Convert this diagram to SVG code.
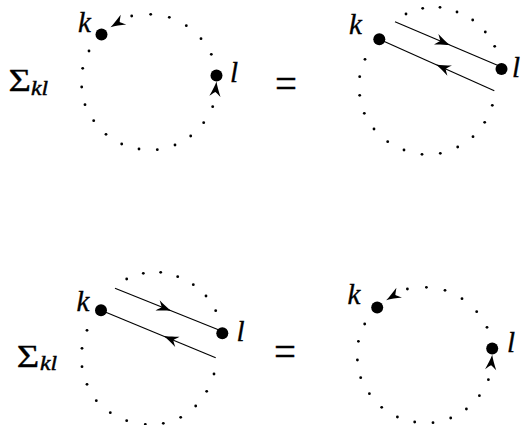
<svg xmlns="http://www.w3.org/2000/svg" xmlns:xlink="http://www.w3.org/1999/xlink" width="522" height="425" viewBox="0 0 522 425">
<style>
.sd{fill:#000;r:1.4px}
.bd{fill:#000;r:6px}
.ln{stroke:#000;stroke-width:1.15;fill:none}
.it{font-family:"Liberation Serif","Times New Roman",serif;font-style:italic;font-size:29px;fill:#000;stroke:#000;stroke-width:0.35}
.sig{font-family:"Liberation Serif","Times New Roman",serif;font-size:32px;fill:#000;stroke:#000;stroke-width:0.3}
.sub{font-family:"Liberation Serif","Times New Roman",serif;font-style:italic;font-size:21px;fill:#000;stroke:#000;stroke-width:0.45}
.eq{font-family:"Liberation Serif","Times New Roman",serif;font-size:42px;fill:#000;stroke:#000;stroke-width:0.3}
</style>
<defs>
<path id="ah" d="M0,0 C-4.5,-1.2 -10,-3.4 -15,-5.6 C-12.8,-2.8 -11.2,-1.1 -10.6,0 C-11.2,1.1 -12.8,2.8 -15,5.6 C-10,3.4 -4.5,1.2 0,0 Z" fill="#000"/>
</defs>

<!-- labels -->
<g id="sigma-top"><text class="sig" x="8.5" y="91" textLength="22.5" lengthAdjust="spacingAndGlyphs">Σ</text><text class="sub" x="31" y="95" textLength="17" lengthAdjust="spacingAndGlyphs">kl</text></g>
<g id="sigma-bottom"><text class="sig" x="16.7" y="367" textLength="22.5" lengthAdjust="spacingAndGlyphs">Σ</text><text class="sub" x="40" y="370" textLength="17" lengthAdjust="spacingAndGlyphs">kl</text></g>
<g id="eq-top"><text class="eq" x="275" y="97" textLength="22" lengthAdjust="spacingAndGlyphs">=</text></g>
<g id="eq-bottom"><text class="eq" x="274" y="365" textLength="22" lengthAdjust="spacingAndGlyphs">=</text></g>

<!-- top-left diagram -->
<g id="tl">
<g id="tl-k"><circle class="bd" cx="101.5" cy="34.5"/><text class="it" x="78" y="32">k</text></g>
<g id="tl-l"><circle class="bd" cx="216.5" cy="75.5"/><text class="it" x="230" y="82">l</text></g>
<g id="tl-connectors">
<circle class="sd" cx="131.7" cy="16"/><circle class="sd" cx="150.7" cy="14.3"/><circle class="sd" cx="169.3" cy="17.3"/><circle class="sd" cx="186.3" cy="25.7"/><circle class="sd" cx="201" cy="38.7"/><circle class="sd" cx="211.3" cy="54.3"/><circle class="sd" cx="212.7" cy="106.7"/><circle class="sd" cx="203.7" cy="122.7"/><circle class="sd" cx="190.7" cy="136"/><circle class="sd" cx="175" cy="145"/><circle class="sd" cx="157.3" cy="149.7"/><circle class="sd" cx="139" cy="149"/><circle class="sd" cx="121.7" cy="144"/><circle class="sd" cx="106" cy="134.3"/><circle class="sd" cx="93.7" cy="120.7"/><circle class="sd" cx="85" cy="104.7"/><circle class="sd" cx="81.7" cy="87"/><circle class="sd" cx="82.7" cy="68.3"/><circle class="sd" cx="89" cy="51"/>
<use xlink:href="#ah" transform="translate(110.5,27.2) rotate(150)"/>
<use xlink:href="#ah" transform="translate(216.5,81.5) rotate(-84)"/>
</g>
</g>

<!-- top-right diagram -->
<g id="tr">
<g id="tr-k"><circle class="bd" cx="379.3" cy="39.3"/><text class="it" x="349" y="34">k</text></g>
<g id="tr-l"><circle class="bd" cx="501.5" cy="69"/><text class="it" x="512" y="77">l</text></g>
<g id="tr-connectors">
<circle class="sd" cx="406" cy="14"/><circle class="sd" cx="422.7" cy="8.3"/><circle class="sd" cx="440" cy="7.3"/><circle class="sd" cx="457" cy="12"/><circle class="sd" cx="472.7" cy="20"/><circle class="sd" cx="485.3" cy="32"/><circle class="sd" cx="494.7" cy="46.3"/><circle class="sd" cx="492.3" cy="105.3"/><circle class="sd" cx="484.7" cy="122.3"/><circle class="sd" cx="473" cy="136.7"/><circle class="sd" cx="457.7" cy="147"/><circle class="sd" cx="440.3" cy="153.3"/><circle class="sd" cx="422" cy="154.3"/><circle class="sd" cx="404" cy="150"/><circle class="sd" cx="387.7" cy="141.7"/><circle class="sd" cx="374" cy="129"/><circle class="sd" cx="364.3" cy="113.3"/><circle class="sd" cx="359.7" cy="95.3"/><circle class="sd" cx="359.7" cy="76.7"/><circle class="sd" cx="365" cy="59.3"/>
<line class="ln" x1="395" y1="21.7" x2="498" y2="65.5"/>
<line class="ln" x1="379.3" y1="39.3" x2="494.3" y2="90.7"/>
<use xlink:href="#ah" transform="translate(450,45.1) rotate(23)"/>
<use xlink:href="#ah" transform="translate(436,64.6) rotate(204.1)"/>
</g>
</g>

<!-- bottom-left diagram -->
<g id="bl">
<g id="bl-k"><circle class="bd" cx="101" cy="310.3"/><text class="it" x="76.5" y="311">k</text></g>
<g id="bl-l"><circle class="bd" cx="222.3" cy="333.3"/><text class="it" x="236.5" y="341">l</text></g>
<g id="bl-connectors">
<circle class="sd" cx="126.7" cy="279"/><circle class="sd" cx="143.3" cy="273.3"/><circle class="sd" cx="160.7" cy="272.3"/><circle class="sd" cx="177.7" cy="276.7"/><circle class="sd" cx="193.3" cy="284.7"/><circle class="sd" cx="206" cy="296"/><circle class="sd" cx="215.7" cy="310.7"/><circle class="sd" cx="214" cy="374"/><circle class="sd" cx="206.7" cy="391.3"/><circle class="sd" cx="195.7" cy="406"/><circle class="sd" cx="180.7" cy="417.3"/><circle class="sd" cx="163.3" cy="423.3"/><circle class="sd" cx="145.3" cy="424.3"/><circle class="sd" cx="126.7" cy="420.7"/><circle class="sd" cx="110.3" cy="412.7"/><circle class="sd" cx="96.3" cy="400.7"/><circle class="sd" cx="87" cy="384.3"/><circle class="sd" cx="82" cy="366.7"/><circle class="sd" cx="82" cy="348.3"/><circle class="sd" cx="87" cy="330.3"/>
<line class="ln" x1="115" y1="288.3" x2="219" y2="330"/>
<line class="ln" x1="101" y1="310.3" x2="215.7" y2="357.7"/>
<use xlink:href="#ah" transform="translate(171.5,311) rotate(21.9)"/>
<use xlink:href="#ah" transform="translate(163.5,336.1) rotate(202.4)"/>
</g>
</g>

<!-- bottom-right diagram -->
<g id="br">
<g id="br-k"><circle class="bd" cx="377.2" cy="307.5"/><text class="it" x="347.5" y="303.5">k</text></g>
<g id="br-l"><circle class="bd" cx="492.2" cy="348.5"/><text class="it" x="507" y="352">l</text></g>
<g id="br-connectors">
<circle class="sd" cx="407.4" cy="289"/><circle class="sd" cx="426.4" cy="287.3"/><circle class="sd" cx="445" cy="290.3"/><circle class="sd" cx="462" cy="298.7"/><circle class="sd" cx="476.7" cy="311.7"/><circle class="sd" cx="487" cy="327.3"/><circle class="sd" cx="488.4" cy="379.7"/><circle class="sd" cx="479.4" cy="395.7"/><circle class="sd" cx="466.4" cy="409"/><circle class="sd" cx="450.7" cy="418"/><circle class="sd" cx="433" cy="422.7"/><circle class="sd" cx="414.7" cy="422"/><circle class="sd" cx="397.4" cy="417"/><circle class="sd" cx="381.7" cy="407.3"/><circle class="sd" cx="369.4" cy="393.7"/><circle class="sd" cx="360.7" cy="377.7"/><circle class="sd" cx="357.4" cy="360"/><circle class="sd" cx="358.4" cy="341.3"/><circle class="sd" cx="364.7" cy="324"/>
<use xlink:href="#ah" transform="translate(386.2,300.2) rotate(150)"/>
<use xlink:href="#ah" transform="translate(492.2,354.8) rotate(-84)"/>
</g>
</g>
</svg>
